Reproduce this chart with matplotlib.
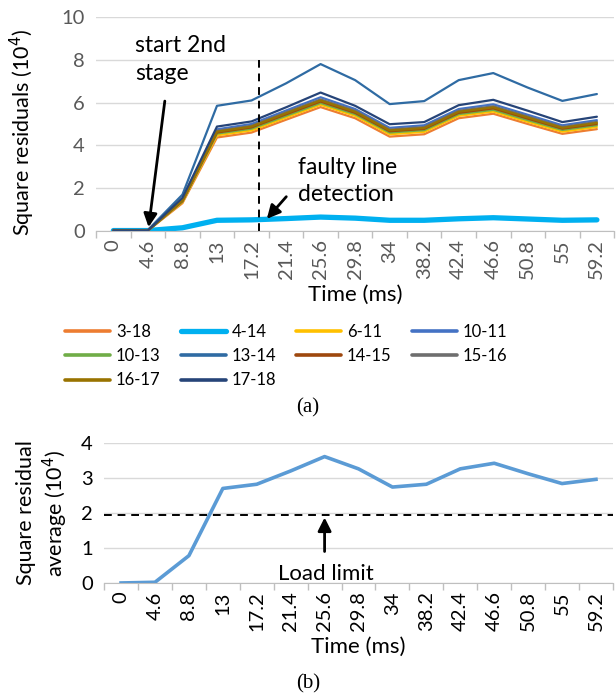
import matplotlib.pyplot as plt
import numpy as np

plt.rcParams['font.family'] = ['Lato', 'DejaVu Sans']

# time axis (categories, ms)
times = ['0', '4.6', '8.8', '13', '17.2', '21.4', '25.6', '29.8', '34', '38.2',
         '42.4', '46.6', '50.8', '55', '59.2']

# (a) square residuals per line (x 10^4)
res_3_18 = [0.02, 0.02, 1.30, 4.37, 4.60, 5.20, 5.79, 5.27, 4.41, 4.52, 5.27, 5.48, 5.00, 4.54, 4.76]
res_4_14 = [0.02, 0.02, 0.15, 0.50, 0.52, 0.58, 0.65, 0.60, 0.50, 0.50, 0.57, 0.62, 0.56, 0.50, 0.52]
res_6_11 = [0.02, 0.02, 1.35, 4.47, 4.70, 5.30, 5.90, 5.38, 4.52, 4.63, 5.38, 5.58, 5.10, 4.64, 4.86]
res_10_11 = [0.02, 0.02, 1.48, 4.75, 5.00, 5.63, 6.25, 5.70, 4.82, 4.94, 5.70, 5.92, 5.43, 4.94, 5.18]
res_10_13 = [0.02, 0.02, 1.38, 4.55, 4.78, 5.38, 5.98, 5.46, 4.60, 4.71, 5.46, 5.66, 5.18, 4.72, 4.94]
res_13_14 = [0.05, 0.05, 1.70, 5.85, 6.10, 6.90, 7.80, 7.05, 5.93, 6.07, 7.05, 7.38, 6.70, 6.08, 6.40]
res_14_15 = [0.02, 0.02, 1.40, 4.60, 4.84, 5.45, 6.05, 5.52, 4.66, 4.77, 5.52, 5.73, 5.25, 4.78, 5.00]
res_15_16 = [0.02, 0.02, 1.44, 4.68, 4.92, 5.55, 6.15, 5.62, 4.74, 4.86, 5.62, 5.83, 5.35, 4.86, 5.10]
res_16_17 = [0.02, 0.02, 1.42, 4.64, 4.88, 5.50, 6.10, 5.57, 4.70, 4.81, 5.57, 5.78, 5.30, 4.82, 5.05]
res_17_18 = [0.02, 0.02, 1.55, 4.88, 5.12, 5.78, 6.47, 5.85, 4.99, 5.09, 5.88, 6.13, 5.62, 5.09, 5.34]

series = [
    ('3-18', res_3_18, '#ED7D31', 1.6),
    ('4-14', res_4_14, '#00B0F0', 3.8),
    ('6-11', res_6_11, '#FFC000', 1.6),
    ('10-11', res_10_11, '#4472C4', 1.6),
    ('10-13', res_10_13, '#70AD47', 1.6),
    ('13-14', res_13_14, '#2F6BA3', 1.6),
    ('14-15', res_14_15, '#9E480E', 1.6),
    ('15-16', res_15_16, '#6E6E6E', 1.6),
    ('16-17', res_16_17, '#997300', 1.6),
    ('17-18', res_17_18, '#264478', 1.6),
]

# (b) average of square residuals (x 10^4)
avg_res = [0.0, 0.02, 0.78, 2.70, 2.82, 3.20, 3.61, 3.26, 2.74, 2.82, 3.26, 3.42, 3.12, 2.84, 2.96]
load_limit = 1.95

detect_pos = 4.22   # category position of the detection marker
detect_top = 8.0

grid_c = '#D9D9D9'
axis_c = '#BFBFBF'

fig = plt.figure(figsize=(6.16, 6.97), dpi=100)
x = np.arange(len(times))


def style_axis(ax, ymax, step, tick_color):
    ax.set_xlim(-0.5, len(times) - 0.5)
    ax.set_ylim(0, ymax)
    ax.set_yticks(np.arange(0, ymax + 0.01, step))
    ax.set_xticks(x)
    ax.set_xticklabels(times, rotation=90)
    ax.set_xticks(np.arange(-0.5, len(times)), minor=True)
    ax.tick_params(axis='x', which='major', length=0, pad=6, labelsize=14.5, labelcolor=tick_color)
    ax.tick_params(axis='x', which='minor', length=5, color=axis_c, width=1)
    ax.tick_params(axis='y', length=0, pad=8, labelsize=14.5, labelcolor=tick_color)
    for s in ['top', 'right', 'left']:
        ax.spines[s].set_visible(False)
    ax.spines['bottom'].set_color(axis_c)
    ax.grid(axis='y', color=grid_c, lw=1)
    ax.set_axisbelow(True)


# ---- (a) ----
ax1 = fig.add_axes([0.156, 0.6686, 0.841, 0.307])
style_axis(ax1, 10, 2, '#595959')
handles = {}
for name, vals, col, lw in series:
    ln, = ax1.plot(x, vals, color=col, lw=lw, label=name, solid_capstyle='round')
    handles[name] = ln
ax1.plot([detect_pos, detect_pos], [0, detect_top], color='black', lw=1.4, ls=(0, (4, 3)))
ax1.set_ylabel('Square residuals (10$^4$)', fontsize=15.5, labelpad=10)
ax1.yaxis.set_label_coords(-0.115, 0.46)
ax1.set_xlabel('Time (ms)', fontsize=16, labelpad=4)

ax1.text(0.64, 9.15, 'start 2nd\nstage', fontsize=16.5, va='top', ha='left', linespacing=1.42)
ax1.annotate('', xy=(1.01, 0.05), xytext=(1.5, 6.2),
             arrowprops=dict(arrowstyle='-|>', color='black', lw=2, mutation_scale=20))
ax1.text(5.35, 3.45, 'faulty line\ndetection', fontsize=16.5, va='top', ha='left', linespacing=1.35)
ax1.annotate('', xy=(4.39, 0.47), xytext=(5.06, 1.7),
             arrowprops=dict(arrowstyle='-|>', color='black', lw=2, mutation_scale=20))

order = ['3-18', '10-13', '16-17', '4-14', '13-14', '17-18', '6-11', '14-15', '10-11', '15-16']
leg = fig.legend([handles[n] for n in order], order, ncol=4, loc='upper left',
                 bbox_to_anchor=(0.095, 0.545), frameon=False, fontsize=12,
                 handlelength=2.7, handletextpad=0.35, columnspacing=1.2,
                 labelspacing=0.5, borderaxespad=0)
for h in leg.legend_handles:
    if h.get_label() != '4-14':
        h.set_linewidth(2.6)
fig.text(0.5, 0.415, '(a)', family='Liberation Serif', fontsize=15, ha='center', va='center')

# ---- (b) ----
ax2 = fig.add_axes([0.169, 0.1636, 0.826, 0.2009])
style_axis(ax2, 4, 1, 'black')
ax2.plot(x, avg_res, color='#5B9BD5', lw=2.6)
ax2.axhline(load_limit, color='black', lw=1.4, ls=(0, (4, 3)))
ax2.annotate('', xy=(6, load_limit), xytext=(6, 0.82),
             arrowprops=dict(arrowstyle='-|>', color='black', lw=2, mutation_scale=20))
ax2.text(6.05, 0.27, 'Load limit', fontsize=16, ha='center', va='center')
ax2.set_ylabel('Square residual\naverage (10$^4$)', fontsize=15.5, labelpad=8, linespacing=1.2)
ax2.set_xlabel('Time (ms)', fontsize=16, labelpad=4)
fig.text(0.5, 0.019, '(b)', family='Liberation Serif', fontsize=15, ha='center', va='center')

fig.savefig('out.png', dpi=100)
